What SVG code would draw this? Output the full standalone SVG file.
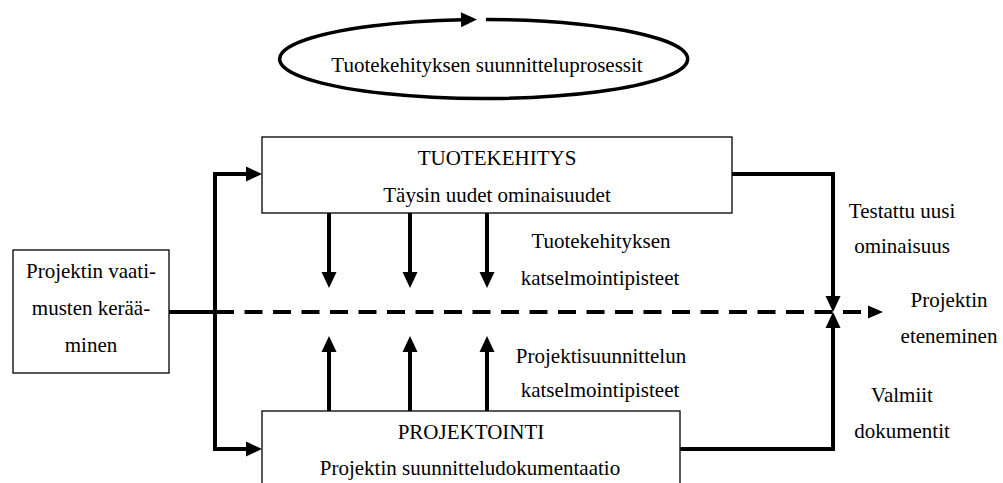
<svg xmlns="http://www.w3.org/2000/svg" width="1003" height="483" viewBox="0 0 1003 483">
<style>
text{font-family:"Liberation Serif","Times New Roman",serif;font-size:21px;fill:#000;text-anchor:middle}
.box{fill:#fff;stroke:#000;stroke-width:1.3}
.c{fill:none;stroke:#000;stroke-width:4;stroke-linejoin:miter;stroke-linecap:butt}
.d{fill:none;stroke:#000;stroke-width:4;stroke-dasharray:18 10.5}
</style>
<defs>
<marker id="ah" markerUnits="userSpaceOnUse" markerWidth="17" markerHeight="16" refX="2" refY="7.5" orient="auto" overflow="visible">
<path d="M0,0 L16,7.5 L0,15 z" fill="#000"/>
</marker>
<marker id="ahs" markerUnits="userSpaceOnUse" markerWidth="16" markerHeight="14" refX="1" refY="6.5" orient="auto" overflow="visible">
<path d="M0,0 L15,6.5 L0,13 z" fill="#000"/>
</marker>
</defs>
<g id="cycle">
<path d="M486,19.5 A204,39.5 0 1 1 463,19.7" fill="none" stroke="#000" stroke-width="3.5" marker-end="url(#ah)"/>
<text x="487" y="72">Tuotekehityksen suunnitteluprosessit</text>
</g>
<g id="connectors">
<path class="c" d="M169,312 H217"/>
<path class="c" d="M215,312 V174 H248" marker-end="url(#ah)"/>
<path class="c" d="M215,312 V449 H248" marker-end="url(#ah)"/>
<path class="d" d="M216,312 H869" marker-end="url(#ahs)"/>
<path class="c" d="M329,213 V274" marker-end="url(#ah)"/>
<path class="c" d="M410,213 V274" marker-end="url(#ah)"/>
<path class="c" d="M487,213 V274" marker-end="url(#ah)"/>
<path class="c" d="M329,411 V350" marker-end="url(#ah)"/>
<path class="c" d="M410,411 V350" marker-end="url(#ah)"/>
<path class="c" d="M487,411 V350" marker-end="url(#ah)"/>
<path class="c" d="M732,174 H833 V298" marker-end="url(#ah)"/>
<path class="c" d="M680,449 H833 V326" marker-end="url(#ah)"/>
</g>
<g id="requirements">
<rect class="box" x="13" y="250" width="156" height="123"/>
<text x="91" y="278">Projektin vaati-</text>
<text x="91" y="315">musten kerää-</text>
<text x="91" y="352">minen</text>
</g>
<g id="tuotekehitys">
<rect class="box" x="262" y="137" width="470" height="76"/>
<text x="497" y="165">TUOTEKEHITYS</text>
<text x="497" y="202">Täysin uudet ominaisuudet</text>
</g>
<g id="projektointi">
<rect class="box" x="262" y="411" width="418" height="90"/>
<text x="471" y="439">PROJEKTOINTI</text>
<text x="470" y="475">Projektin suunnitteludokumentaatio</text>
</g>
<g id="labels">
<text x="601" y="248">Tuotekehityksen</text>
<text x="600" y="285">katselmointipisteet</text>
<text x="601" y="363">Projektisuunnittelun</text>
<text x="600" y="397">katselmointipisteet</text>
<text x="902" y="218">Testattu uusi</text>
<text x="902" y="253">ominaisuus</text>
<text x="949" y="307">Projektin</text>
<text x="949" y="343">eteneminen</text>
<text x="902" y="402">Valmiit</text>
<text x="902" y="438">dokumentit</text>
</g>
</svg>
